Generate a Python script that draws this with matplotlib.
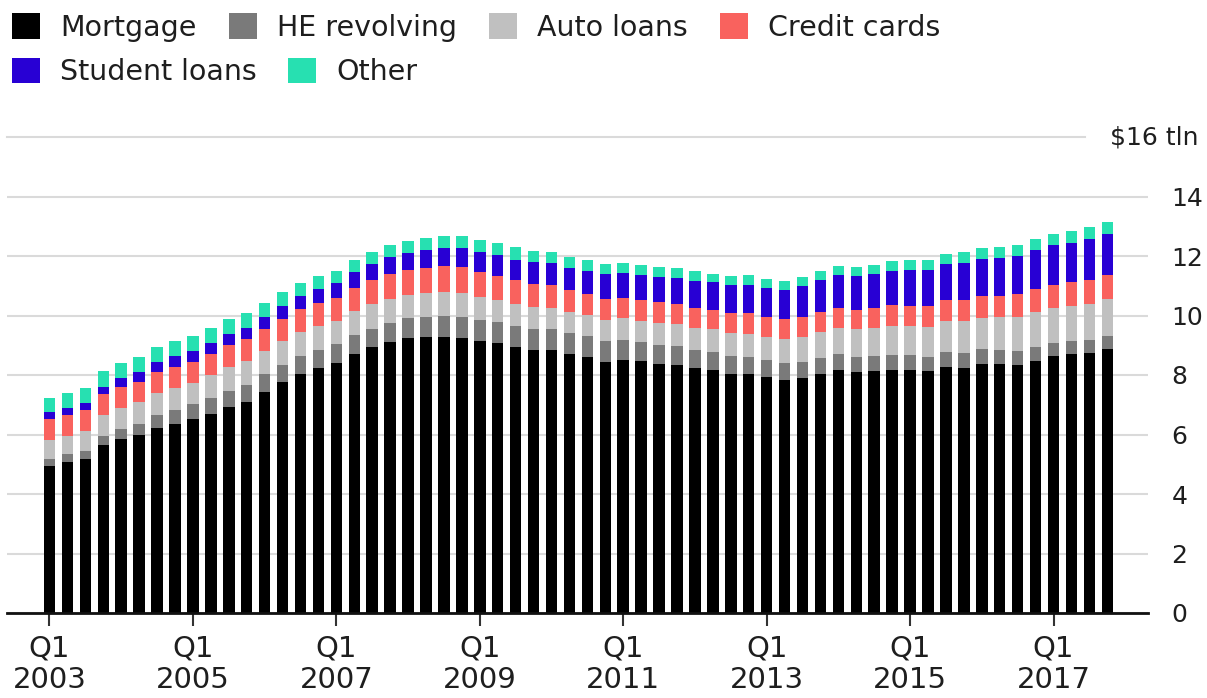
import matplotlib
matplotlib.use("Agg")
import matplotlib.pyplot as plt
from matplotlib.patches import Patch
import numpy as np

quarters = [f"Q{q} {y}" for y in range(2003, 2018) for q in range(1, 5)]

mortgage = [4.94, 5.08, 5.18, 5.66, 5.84, 5.97, 6.21, 6.36, 6.51, 6.70, 6.91, 7.10,
            7.44, 7.76, 8.04, 8.23, 8.42, 8.71, 8.93, 9.10, 9.23, 9.27, 9.29, 9.26,
            9.14, 9.06, 8.94, 8.84, 8.83, 8.70, 8.61, 8.45, 8.52, 8.46, 8.36, 8.33,
            8.22, 8.17, 8.03, 8.03, 7.93, 7.84, 7.90, 8.05, 8.17, 8.10, 8.13, 8.17,
            8.17, 8.12, 8.26, 8.25, 8.37, 8.36, 8.35, 8.48, 8.63, 8.69, 8.74, 8.88]
he_revolving = [0.24, 0.26, 0.27, 0.30, 0.33, 0.37, 0.43, 0.47, 0.50, 0.53, 0.54, 0.57,
                0.58, 0.59, 0.60, 0.60, 0.61, 0.62, 0.63, 0.65, 0.67, 0.68, 0.69, 0.70,
                0.71, 0.71, 0.71, 0.71, 0.70, 0.70, 0.69, 0.68, 0.67, 0.66, 0.66, 0.64,
                0.62, 0.61, 0.60, 0.58, 0.56, 0.55, 0.54, 0.53, 0.53, 0.52, 0.52, 0.51,
                0.51, 0.50, 0.50, 0.49, 0.49, 0.48, 0.47, 0.47, 0.46, 0.45, 0.45, 0.44]
auto_loans = [0.64, 0.62, 0.68, 0.70, 0.72, 0.74, 0.75, 0.73, 0.73, 0.77, 0.83, 0.79,
              0.79, 0.80, 0.82, 0.82, 0.79, 0.81, 0.82, 0.82, 0.79, 0.81, 0.82, 0.80,
              0.78, 0.76, 0.74, 0.74, 0.72, 0.71, 0.71, 0.71, 0.71, 0.71, 0.73, 0.73,
              0.74, 0.75, 0.77, 0.78, 0.79, 0.81, 0.84, 0.86, 0.88, 0.91, 0.93, 0.96,
              0.97, 1.01, 1.05, 1.06, 1.07, 1.10, 1.14, 1.16, 1.17, 1.19, 1.21, 1.22]
credit_cards = [0.69, 0.69, 0.69, 0.70, 0.69, 0.70, 0.71, 0.72, 0.71, 0.72, 0.73, 0.74,
                0.72, 0.74, 0.75, 0.77, 0.76, 0.80, 0.82, 0.84, 0.84, 0.85, 0.86, 0.87,
                0.84, 0.81, 0.80, 0.78, 0.76, 0.74, 0.72, 0.73, 0.70, 0.69, 0.69, 0.70,
                0.68, 0.67, 0.67, 0.68, 0.66, 0.67, 0.67, 0.68, 0.66, 0.67, 0.68, 0.70,
                0.68, 0.70, 0.71, 0.73, 0.71, 0.73, 0.75, 0.78, 0.76, 0.78, 0.81, 0.83]
student_loans = [0.24, 0.24, 0.25, 0.25, 0.32, 0.32, 0.33, 0.35, 0.36, 0.37, 0.38, 0.39,
                 0.43, 0.44, 0.45, 0.48, 0.51, 0.51, 0.54, 0.55, 0.58, 0.58, 0.61, 0.64,
                 0.66, 0.68, 0.69, 0.72, 0.76, 0.76, 0.78, 0.81, 0.84, 0.85, 0.87, 0.87,
                 0.90, 0.91, 0.96, 0.97, 0.99, 0.99, 1.03, 1.08, 1.11, 1.12, 1.13, 1.16,
                 1.19, 1.19, 1.20, 1.23, 1.26, 1.26, 1.28, 1.31, 1.34, 1.34, 1.36, 1.38]
other = [0.48, 0.49, 0.48, 0.52, 0.51, 0.51, 0.50, 0.50, 0.49, 0.49, 0.48, 0.49,
         0.45, 0.45, 0.44, 0.42, 0.42, 0.41, 0.41, 0.42, 0.41, 0.41, 0.41, 0.41,
         0.41, 0.41, 0.41, 0.39, 0.37, 0.36, 0.35, 0.35, 0.33, 0.33, 0.33, 0.33,
         0.32, 0.30, 0.31, 0.31, 0.30, 0.30, 0.30, 0.31, 0.31, 0.32, 0.32, 0.33,
         0.33, 0.34, 0.35, 0.36, 0.36, 0.37, 0.37, 0.38, 0.38, 0.38, 0.39, 0.39]

series_names = ["Mortgage", "HE revolving", "Auto loans", "Credit cards", "Student loans", "Other"]
series_values = [mortgage, he_revolving, auto_loans, credit_cards, student_loans, other]
colors = ["#000000", "#7a7a7a", "#c0c0c0", "#f9625e", "#2800d4", "#27e0b1"]

yticks = [0, 2, 4, 6, 8, 10, 12, 14]
top_label = "$16 tln"
xtick_idx = [quarters.index(f"Q1 {y}") for y in range(2003, 2018, 2)]
xtick_labels = [f"Q1\n{y}" for y in range(2003, 2018, 2)]

W, H = 1207, 698
fig = plt.figure(figsize=(W / 100, H / 100), dpi=100)
plt.rcParams['font.family'] = ['DejaVu Sans']
txt = '#1e1e1e'

ax = fig.add_axes([7 / W, (H - 613) / H, (1148 - 7) / W, (613 - 137) / H])
x = np.arange(len(quarters))
bottom = np.zeros(len(quarters))
for name, vals, c in zip(series_names, series_values, colors):
    v = np.array(vals)
    ax.bar(x, v, width=0.64, bottom=bottom, color=c, linewidth=0, zorder=3)
    bottom += v

ax.set_ylim(0, 16)
ax.set_xlim(-2.37, 61.27)
ax.set_yticks(yticks)
ax.set_yticklabels([str(t) for t in yticks])
ax.yaxis.set_ticks_position('right')
ax.tick_params(axis='y', length=0, pad=17, labelsize=18, labelcolor=txt)
ax.grid(axis='y', color='#dadada', linewidth=1.5, zorder=0)
ax.axhline(16, xmin=0, xmax=(1085 - 7) / (1148 - 7), color='#dadada', linewidth=1.5,
           clip_on=False, zorder=0)
ax.text((1110 - 7) / (1148 - 7), 16, top_label, transform=ax.get_yaxis_transform(),
        ha='left', va='center', fontsize=18, color=txt)

ax.set_xticks(xtick_idx)
ax.set_xticklabels(xtick_labels, linespacing=1.15)
ax.tick_params(axis='x', length=9.5, width=1.5, color='#333333', pad=6,
               labelsize=21, labelcolor=txt)

for s in ['top', 'left', 'right']:
    ax.spines[s].set_visible(False)
ax.spines['bottom'].set_linewidth(2)
ax.spines['bottom'].set_color('#111111')
ax.spines['bottom'].set_zorder(4)

handles = [Patch(facecolor=c, edgecolor='none') for c in colors]
common = dict(frameon=False, fontsize=20.5, handlelength=1.0, handleheight=1.0,
              handletextpad=0.7, borderpad=0, borderaxespad=0, labelcolor=txt)
leg1 = fig.legend(handles[:4], series_names[:4], loc='center left',
                  bbox_to_anchor=(12 / W, 1 - 27.5 / H), ncol=4, columnspacing=1.12, **common)
leg2 = fig.legend(handles[4:], series_names[4:], loc='center left',
                  bbox_to_anchor=(12 / W, 1 - 72 / H), ncol=2, columnspacing=1.08, **common)

fig.savefig("out.png", dpi=100)
